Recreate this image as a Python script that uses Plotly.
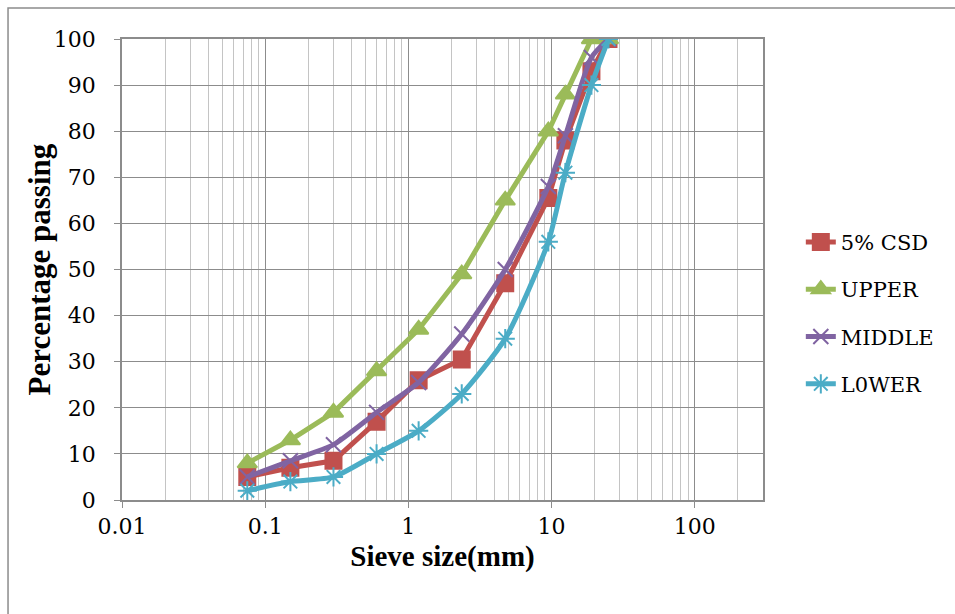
import plotly.graph_objects as go

# Sieve sizes (mm) and percentage passing for each grading curve
sieve_mm = [0.075, 0.15, 0.3, 0.6, 1.18, 2.36, 4.75, 9.5, 12.5, 19, 25]
csd_5 = [5, 7, 8.5, 17, 26, 30.5, 47, 65.5, 78, 93, 100]
upper = [8, 13, 19, 28, 37, 49, 65, 80, 88, 100, 100]
middle = [5, 8.5, 12, 19, 25.5, 36, 50, 68, 79, 96, 100]
lower = [2, 4, 5, 10, 15, 23, 35, 56, 71, 90, 100]

x_tick_vals = [0.01, 0.1, 1, 10, 100]
x_tick_text = ["0.01", "0.1", "1", "10", "100"]
y_tick_vals = list(range(0, 101, 10))

series = [
    ("5% CSD", csd_5, "#C0504D", "square", 16, "linear"),
    ("UPPER", upper, "#9BBB59", "triangle-up", 17, "linear"),
    ("MIDDLE", middle, "#8064A2", "x-thin-open", 15, "spline"),
    ("L0WER", lower, "#4BACC6", "asterisk-open", 16, "spline"),
]

fig = go.Figure()
for name, vals, color, symbol, size, shape in series:
    fig.add_trace(go.Scatter(
        x=sieve_mm, y=vals, name=name, legendgroup=name, mode="lines+markers",
        line=dict(color=color, width=5, shape=shape, smoothing=0.6),
        marker=dict(symbol=symbol, size=size, color=color,
                    line=dict(color=color, width=2)),
    ))

# minor grid positions: 2..9 within each decade, up to 300
minor_vals = [m * 10 ** e for e in range(-2, 3) for m in range(2, 10) if m * 10 ** e <= 300]

serif = "Liberation Serif, Times New Roman, serif"
label_font = "DejaVu Serif, serif"
fig.update_layout(
    width=955, height=614,
    margin=dict(l=122, r=192, t=39, b=114),
    paper_bgcolor="white", plot_bgcolor="white",
    font=dict(family=serif, color="black"),
    showlegend=True,
    legend=dict(x=1.059, y=0.405, xanchor="left", yanchor="middle",
                font=dict(size=21, family=label_font),
                tracegroupgap=17, bgcolor="rgba(0,0,0,0)"),
    xaxis=dict(
        type="log", range=[-2, 2.4771], tickvals=x_tick_vals, ticktext=x_tick_text,
        tickfont=dict(size=22, family=label_font),
        showgrid=True, gridcolor="#8C8C8C", gridwidth=1,
        showline=True, linecolor="#8C8C8C", linewidth=1.5, mirror=True,
        ticks="outside", ticklen=6, tickcolor="#8C8C8C",
        minor=dict(tickvals=minor_vals, showgrid=True, gridcolor="#C4C4C4",
                   ticks="", gridwidth=1),
        title=dict(text="<b>Sieve size(mm)</b>", font=dict(size=29, family=serif), standoff=8),
        zeroline=False,
    ),
    yaxis=dict(
        range=[0, 100], tickvals=y_tick_vals,
        tickfont=dict(size=22, family=label_font),
        showgrid=True, gridcolor="#8C8C8C", gridwidth=1,
        showline=True, linecolor="#8C8C8C", linewidth=1.5, mirror=True,
        ticks="outside", ticklen=6, tickcolor="#8C8C8C", ticklabelstandoff=14,
        zeroline=False,
    ),
    annotations=[dict(text="<b>Percentage passing</b>", xref="paper", yref="paper",
                      x=-0.128, y=0.5, xanchor="center", yanchor="middle",
                      textangle=-90, showarrow=False,
                      font=dict(size=31, family=serif, color="black"))],
    shapes=[dict(type="rect", xref="paper", yref="paper",
                 x0=-0.1778, x1=1.45, y0=-0.5, y1=1.0672,
                 line=dict(color="#8C8C8C", width=1.5), layer="below")],
)

fig.write_html("out.html")
